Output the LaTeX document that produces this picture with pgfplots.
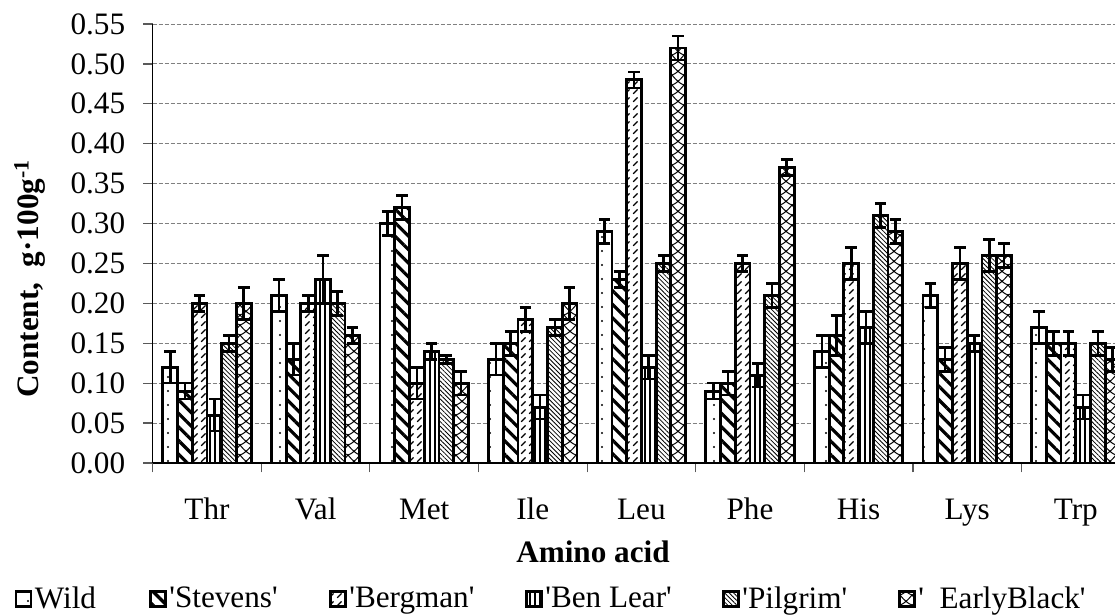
\documentclass[border=0pt]{standalone}
\usepackage{fontspec}
\setmainfont{Liberation Serif}
\usepackage{pgfplots}
\pgfplotsset{compat=1.18}
\usepackage{pgfplotstable}
\usetikzlibrary{patterns.meta}
\newcommand{\q}{\textquotesingle}

\pgfdeclarepattern{name=slashdash, type=uncolored,
  bottom left={\pgfpoint{-0.5pt}{-0.5pt}}, top right={\pgfpoint{4.5pt}{4.5pt}},
  tile size={\pgfpoint{4pt}{4pt}},
  code={\pgfsetlinewidth{0.55pt}\pgfpathmoveto{\pgfpoint{0.6pt}{0.6pt}}\pgfpathlineto{\pgfpoint{2.8pt}{2.8pt}}\pgfusepath{stroke}}}
\pgfdeclarepattern{name=xwave, type=uncolored,
  bottom left={\pgfpoint{-0.5pt}{-0.5pt}}, top right={\pgfpoint{6.5pt}{5.5pt}},
  tile size={\pgfpoint{6pt}{5pt}},
  code={\pgfsetlinewidth{0.5pt}
    \pgfpathmoveto{\pgfpoint{0pt}{0pt}}\pgfpathcurveto{\pgfpoint{2pt}{0.6pt}}{\pgfpoint{4pt}{2.5pt}}{\pgfpoint{6pt}{5pt}}
    \pgfpathmoveto{\pgfpoint{6pt}{0pt}}\pgfpathcurveto{\pgfpoint{4pt}{0.6pt}}{\pgfpoint{2pt}{2.5pt}}{\pgfpoint{0pt}{5pt}}
    \pgfusepath{stroke}}}

% Wild
\pgfplotstableread{
x y e
0.1615 0.12 0.02
1.1615 0.21 0.02
2.1615 0.30 0.015
3.1615 0.13 0.02
4.1615 0.29 0.015
5.1615 0.09 0.01
6.1615 0.14 0.02
7.1615 0.21 0.015
8.1615 0.17 0.02
}\wild
% 'Stevens'
\pgfplotstableread{
x y e
0.2969 0.09 0.01
1.2969 0.13 0.02
2.2969 0.32 0.015
3.2969 0.15 0.015
4.2969 0.23 0.01
5.2969 0.10 0.015
6.2969 0.16 0.025
7.2969 0.13 0.015
8.2969 0.15 0.015
}\stevens
% 'Bergman'
\pgfplotstableread{
x y e
0.4323 0.20 0.01
1.4323 0.20 0.01
2.4323 0.10 0.02
3.4323 0.18 0.015
4.4323 0.48 0.01
5.4323 0.25 0.01
6.4323 0.25 0.02
7.4323 0.25 0.02
8.4323 0.15 0.015
}\bergman
% 'Ben Lear'
\pgfplotstableread{
x y e
0.5677 0.06 0.02
1.5677 0.23 0.03
2.5677 0.14 0.01
3.5677 0.07 0.015
4.5677 0.12 0.015
5.5677 0.11 0.015
6.5677 0.17 0.02
7.5677 0.15 0.01
8.5677 0.07 0.015
}\benlear
% 'Pilgrim'
\pgfplotstableread{
x y e
0.7031 0.15 0.01
1.7031 0.20 0.015
2.7031 0.13 0.005
3.7031 0.17 0.01
4.7031 0.25 0.01
5.7031 0.21 0.015
6.7031 0.31 0.015
7.7031 0.26 0.02
8.7031 0.15 0.015
}\pilgrim
% 'EarlyBlack'
\pgfplotstableread{
x y e
0.8385 0.20 0.02
1.8385 0.16 0.01
2.8385 0.10 0.015
3.8385 0.20 0.02
4.8385 0.52 0.015
5.8385 0.37 0.01
6.8385 0.29 0.015
7.8385 0.26 0.015
8.8385 0.13 0.015
}\earlyblack

\pgfplotsset{
  mybar/.style={ybar, bar width=0.1354, bar shift=0pt, draw=black, line width=1.4pt,
    preaction={fill=white},
    legend image code/.code={\draw[##1, line width=1pt] (0.5pt,-3.75pt) rectangle (8pt,3.75pt);},
    error bars/y dir=both, error bars/y explicit,
    error bars/error bar style={line width=1.3pt, black, solid},
    error bars/error mark options={rotate=90, black, line width=1.3pt, mark size=2.9pt, solid}},
}

\begin{document}
\begin{tikzpicture}
\begin{axis}[
  scale only axis, width=481.15pt, height=219.5pt,
  xmin=0, xmax=8.861, ymin=0, ymax=0.55,
  axis x line*=bottom, axis y line*=left,
  axis line style={black, line width=0.8pt},
  tick align=outside, major tick length=4.75pt,
  tick style={black!65, line width=0.6pt},
  ytick={0,0.05,0.10,0.15,0.20,0.25,0.30,0.35,0.40,0.45,0.50,0.55},
  /pgf/number format/assume math mode=true,
  yticklabel style={/pgf/number format/fixed, /pgf/number format/fixed zerofill, /pgf/number format/precision=2, xshift=-5.5pt},
  xtick={0,1,2,3,4,5,6,7,8}, xticklabels={},
  extra x ticks={0.5,1.5,2.5,3.5,4.5,5.5,6.5,7.5,8.5},
  extra x tick labels={Thr,Val,Met,Ile,Leu,Phe,His,Lys,Trp},
  extra x tick style={major tick length=0pt, grid=none, tick label style={anchor=base, yshift=-28.5pt}},
  ymajorgrids,
  major grid style={dash pattern=on 2pt off 1pt, black!50, line width=0.5pt},
  tick label style={font=\fontsize{15.6}{18}\selectfont},
  label style={font=\bfseries\fontsize{15.6}{18}\selectfont},
  xlabel={Amino acid},
  xlabel style={at={(axis description cs:0.4575,-0.2278)}, anchor=base},
  ylabel={Content,\ \ g·100g\textsuperscript{-1}},
  ylabel style={at={(axis description cs:-0.1275,0.42)}, anchor=center},
  legend columns=6,
  legend style={draw=none, fill=none, inner sep=0pt, column sep=0pt,
    font=\fontsize{15.6}{18}\selectfont,
    at={(axis description cs:-0.1436,-0.3098)}, anchor=west,
    nodes={inner xsep=1.5pt, inner ysep=1pt}},
]
\addplot[mybar, postaction={pattern={Dots[distance=7pt, radius=0.55pt]}}]
  table[x=x, y=y, y error=e]{\wild};
\addlegendentry{\makebox[55.75pt][l]{Wild}}
\addplot[mybar, postaction={pattern={Lines[angle=-45, distance=4.8pt, line width=1.6pt]}}]
  table[x=x, y=y, y error=e]{\stevens};
\addlegendentry{\makebox[78.5pt][l]{\q Stevens\q}}
\addplot[mybar, postaction={pattern=slashdash}]
  table[x=x, y=y, y error=e]{\bergman};
\addlegendentry{\makebox[86.5pt][l]{\q Bergman\q}}
\addplot[mybar, postaction={pattern={Lines[angle=90, distance=2.5pt, line width=0.6pt]}}]
  table[x=x, y=y, y error=e]{\benlear};
\addlegendentry{\makebox[87pt][l]{\q Ben Lear\q}}
\addplot[mybar, postaction={pattern={Lines[angle=-45, distance=1.6pt, line width=0.4pt]}}]
  table[x=x, y=y, y error=e]{\pilgrim};
\addlegendentry{\makebox[76.5pt][l]{\q Pilgrim\q}}
\addplot[mybar, postaction={pattern=xwave}]
  table[x=x, y=y, y error=e]{\earlyblack};
\addlegendentry{\q\ \ EarlyBlack\q}
\end{axis}
\pgfresetboundingbox
\path[use as bounding box] (-76.35pt,-76pt) rectangle (481.15pt,231.5pt);
\end{tikzpicture}
\end{document}
